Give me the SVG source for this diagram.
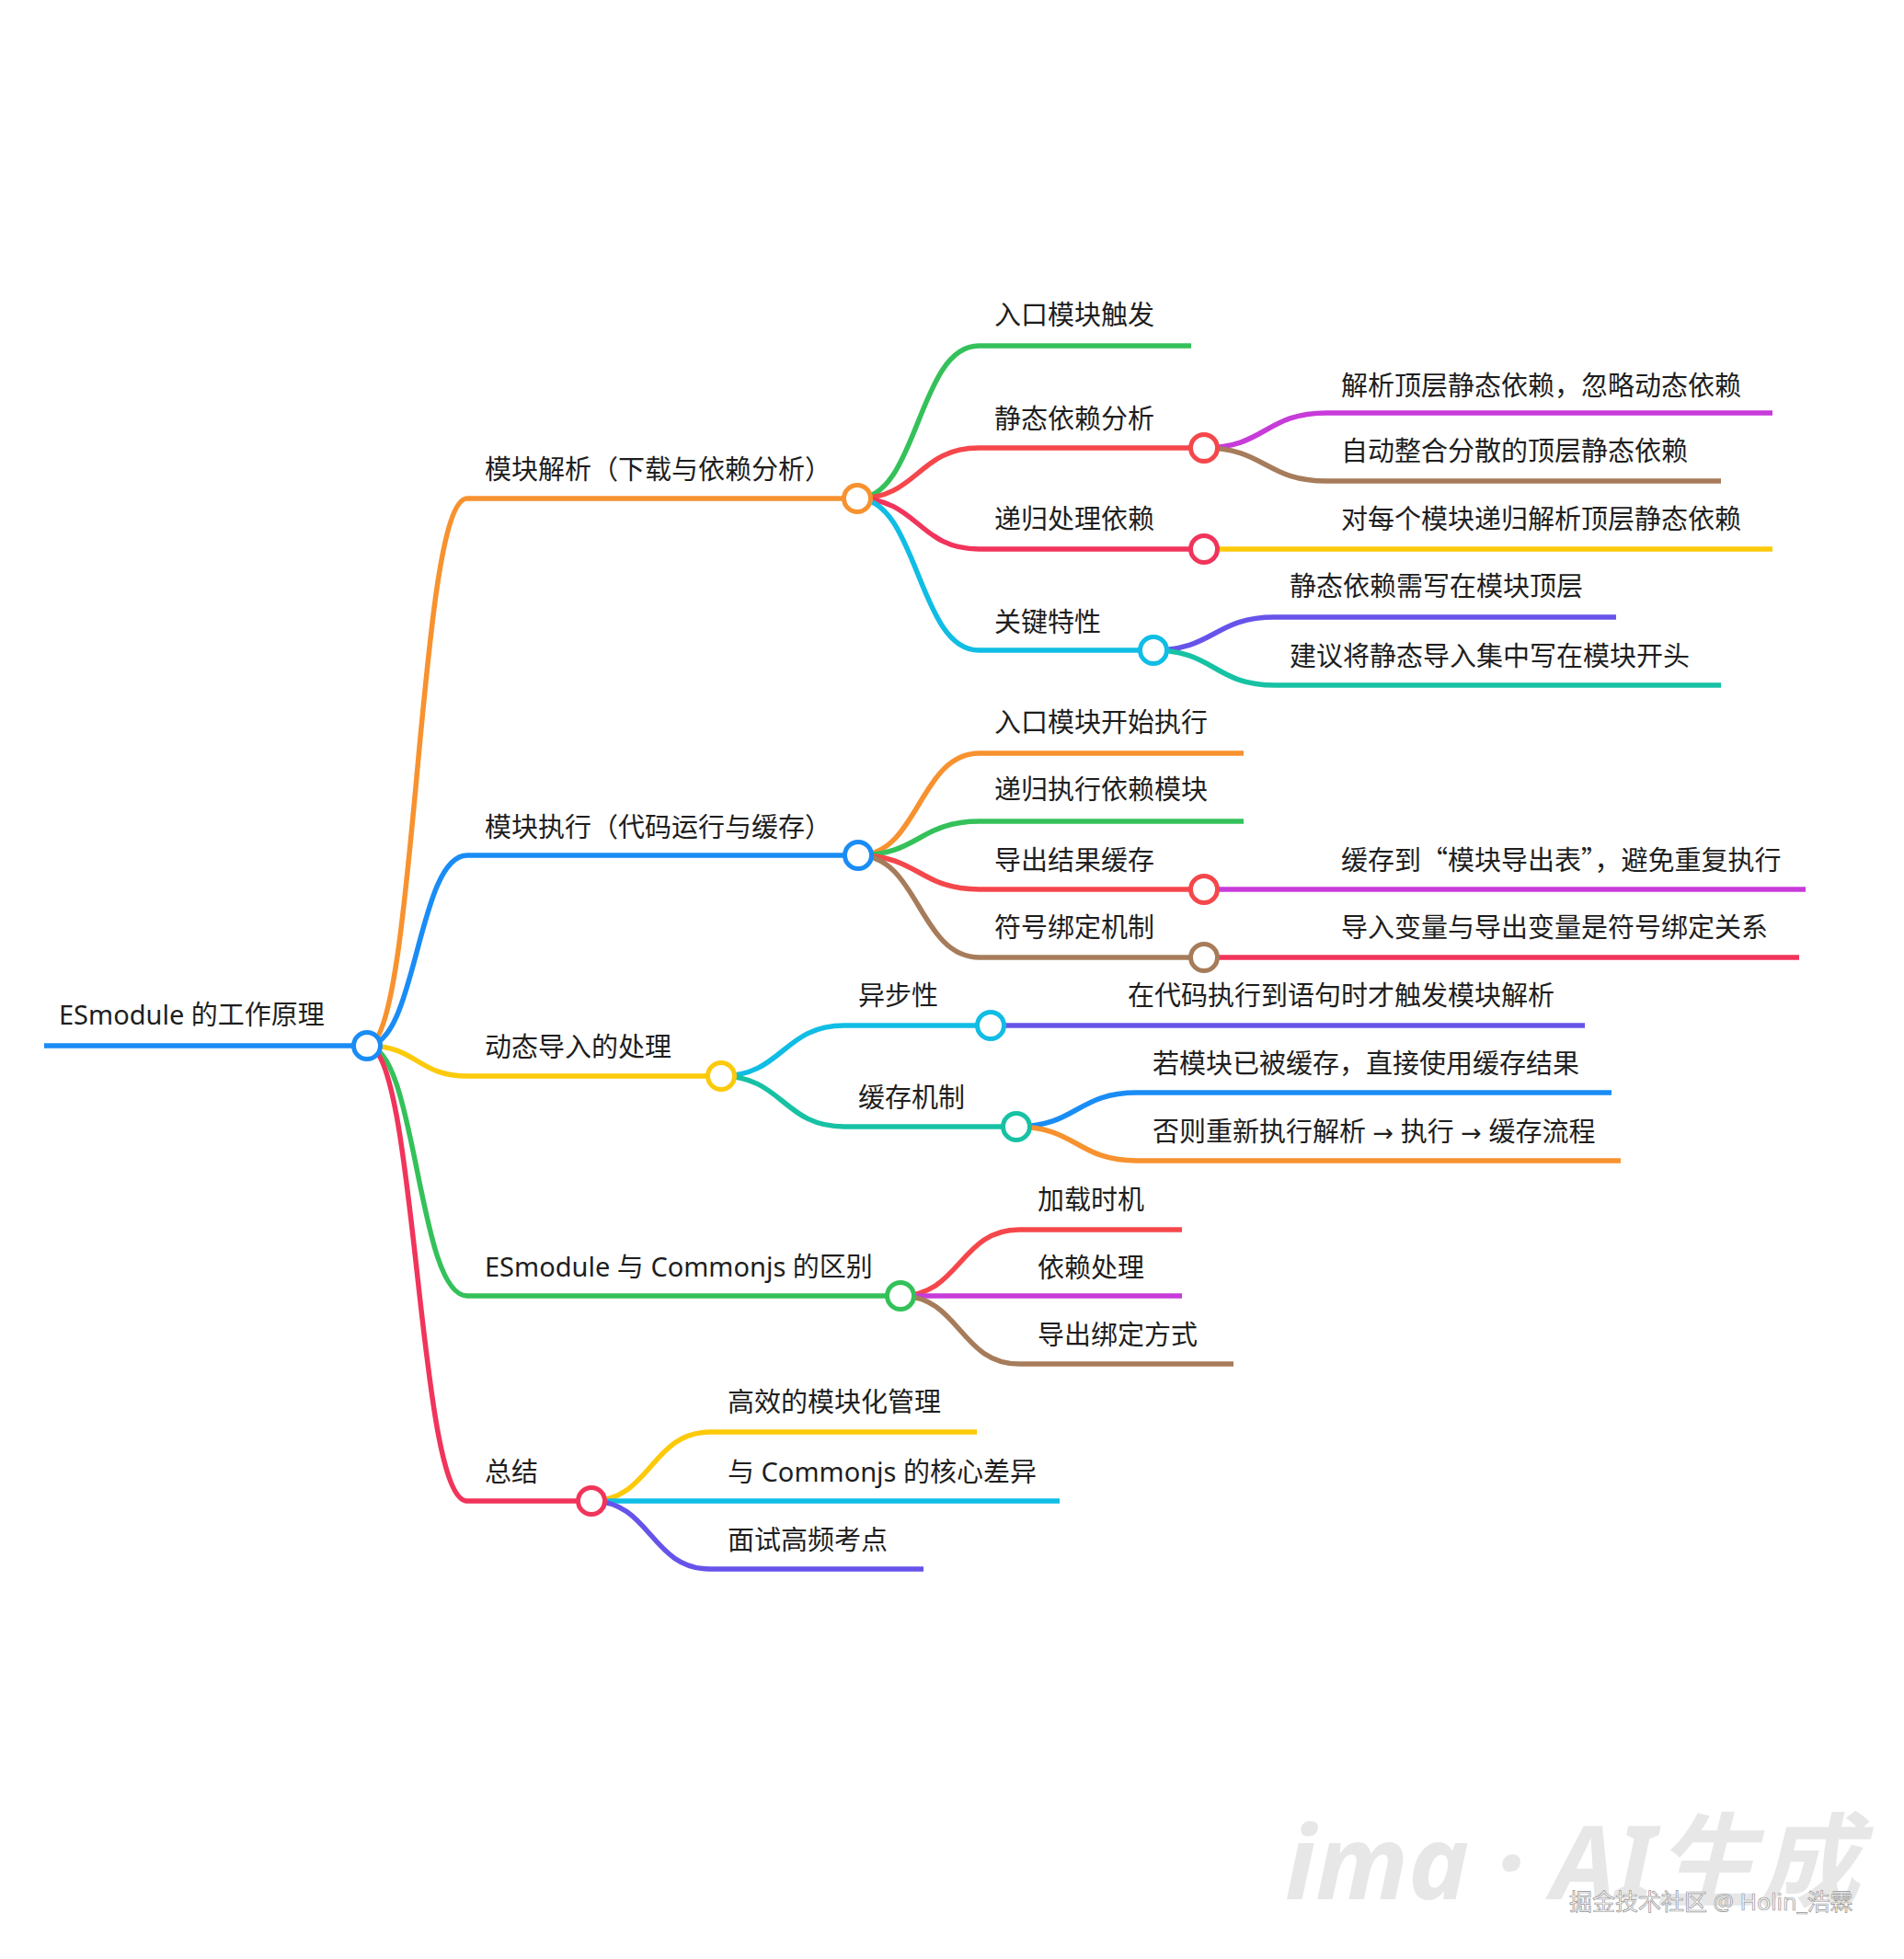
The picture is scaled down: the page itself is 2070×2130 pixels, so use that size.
<svg xmlns="http://www.w3.org/2000/svg" width="2070" height="2130" viewBox="0 0 2070 2130">
<style>
  .t { font-family: "Noto Sans", "Noto Sans CJK SC", sans-serif; font-size: 29px; fill: #1e1e1e; }
  .q { font-family: "Noto Sans CJK SC", sans-serif; font-feature-settings: "fwid" 1; }
  .ar { font-family: "DejaVu Sans", sans-serif; font-size: 27px; }
  .c { fill: none; stroke-width: 5.5; stroke-linecap: butt; }
  .n { fill: #ffffff; stroke-width: 5; }
  .blue { stroke: #1a8cf5; } .orange { stroke: #f7922f; } .green { stroke: #34c15a; }
  .red { stroke: #f5474b; } .crimson { stroke: #f1345b; } .purple { stroke: #c73bd9; }
  .brown { stroke: #a67c5b; } .yellow { stroke: #fcca0a; } .cyan { stroke: #10bde4; }
  .indigo { stroke: #6654ea; } .teal { stroke: #17c2a4; }
  .wm { font-family: "Noto Sans", "Noto Sans CJK SC", sans-serif; font-size: 112px; font-weight: bold; font-style: italic; fill: #e7e7e7; }
  .sig { font-family: "Noto Sans", "Noto Sans CJK SC", sans-serif; font-size: 25px; fill: #fbfbfb; stroke: #959595; stroke-width: 0.7; }
</style>
<rect width="2070" height="2130" fill="#ffffff"/>

<g id="connectors">
  <path class="c blue" d="M48 1137 H399"/>
  <path class="c orange" d="M399 1137 C453.5 1137 453.5 542 508 542 H932"/>
  <path class="c blue" d="M399 1137 C453.5 1137 453.5 930 508 930 H933"/>
  <path class="c yellow" d="M399 1137 C453.5 1137 453.5 1170 508 1170 H784"/>
  <path class="c green" d="M399 1137 C453.5 1137 453.5 1409 508 1409 H979"/>
  <path class="c crimson" d="M399 1137 C453.5 1137 453.5 1632 508 1632 H643"/>
  <path class="c green" d="M932 542 C998 542 998 376 1064 376 H1295"/>
  <path class="c red" d="M932 542 C998 542 998 487 1064 487 H1309"/>
  <path class="c crimson" d="M932 542 C998 542 998 597 1064 597 H1309"/>
  <path class="c cyan" d="M932 542 C998 542 998 707 1064 707 H1254"/>
  <path class="c purple" d="M1309 487 C1375.5 487 1375.5 449 1442 449 H1927"/>
  <path class="c brown" d="M1309 487 C1375.5 487 1375.5 523 1442 523 H1871"/>
  <path class="c yellow" d="M1309 597 H1927"/>
  <path class="c indigo" d="M1254 707 C1320 707 1320 671 1386 671 H1757"/>
  <path class="c teal" d="M1254 707 C1320 707 1320 745 1386 745 H1871"/>
  <path class="c orange" d="M933 930 C999 930 999 819 1065 819 H1352"/>
  <path class="c green" d="M933 930 C999 930 999 893 1065 893 H1352"/>
  <path class="c red" d="M933 930 C999 930 999 967 1065 967 H1309"/>
  <path class="c brown" d="M933 930 C999 930 999 1041 1065 1041 H1309"/>
  <path class="c purple" d="M1309 967 H1963"/>
  <path class="c crimson" d="M1309 1041 H1956"/>
  <path class="c cyan" d="M784 1170 C851 1170 851 1115 918 1115 H1077"/>
  <path class="c teal" d="M784 1170 C851 1170 851 1225 918 1225 H1105"/>
  <path class="c indigo" d="M1077 1115 H1723"/>
  <path class="c blue" d="M1105 1225 C1170.5 1225 1170.5 1188 1236 1188 H1752"/>
  <path class="c orange" d="M1105 1225 C1170.5 1225 1170.5 1262 1236 1262 H1762"/>
  <path class="c red" d="M979 1409 C1043.5 1409 1043.5 1337 1108 1337 H1285"/>
  <path class="c purple" d="M979 1409 H1285"/>
  <path class="c brown" d="M979 1409 C1043.5 1409 1043.5 1483 1108 1483 H1341"/>
  <path class="c yellow" d="M643 1632 C707.5 1632 707.5 1557 772 1557 H1062"/>
  <path class="c cyan" d="M643 1632 H1152"/>
  <path class="c indigo" d="M643 1632 C707.5 1632 707.5 1706 772 1706 H1004"/>
</g>

<g id="root">
  <circle class="n blue" cx="399" cy="1137" r="14.5"/>
  <text class="t" x="64" y="1114">ESmodule 的工作原理</text>
</g>

<g id="n-parse">
  <circle class="n orange" cx="932" cy="542" r="14.5"/>
  <text class="t" x="527" y="521">模块解析（下载与依赖分析）</text>
</g>
<g id="n-parse-entry"><text class="t" x="1081" y="353">入口模块触发</text></g>
<g id="n-parse-static">
  <circle class="n red" cx="1309" cy="487" r="14.5"/>
  <text class="t" x="1081" y="466">静态依赖分析</text>
</g>
<g id="n-parse-static-1"><text class="t" x="1458" y="430">解析顶层静态依赖，忽略动态依赖</text></g>
<g id="n-parse-static-2"><text class="t" x="1458" y="501">自动整合分散的顶层静态依赖</text></g>
<g id="n-parse-rec">
  <circle class="n crimson" cx="1309" cy="597" r="14.5"/>
  <text class="t" x="1081" y="575">递归处理依赖</text>
</g>
<g id="n-parse-rec-1"><text class="t" x="1458" y="575">对每个模块递归解析顶层静态依赖</text></g>
<g id="n-parse-key">
  <circle class="n cyan" cx="1254" cy="707" r="14.5"/>
  <text class="t" x="1081" y="687">关键特性</text>
</g>
<g id="n-parse-key-1"><text class="t" x="1402" y="648">静态依赖需写在模块顶层</text></g>
<g id="n-parse-key-2"><text class="t" x="1402" y="724">建议将静态导入集中写在模块开头</text></g>

<g id="n-exec">
  <circle class="n blue" cx="933" cy="930" r="14.5"/>
  <text class="t" x="527" y="910">模块执行（代码运行与缓存）</text>
</g>
<g id="n-exec-1"><text class="t" x="1081" y="796">入口模块开始执行</text></g>
<g id="n-exec-2"><text class="t" x="1081" y="869">递归执行依赖模块</text></g>
<g id="n-exec-3">
  <circle class="n red" cx="1309" cy="967" r="14.5"/>
  <text class="t" x="1081" y="946">导出结果缓存</text>
</g>
<g id="n-exec-3-1"><text class="t" x="1458" y="946">缓存到<tspan class="q">“</tspan>模块导出表<tspan class="q">”</tspan>，避免重复执行</text></g>
<g id="n-exec-4">
  <circle class="n brown" cx="1309" cy="1041" r="14.5"/>
  <text class="t" x="1081" y="1019">符号绑定机制</text>
</g>
<g id="n-exec-4-1"><text class="t" x="1458" y="1019">导入变量与导出变量是符号绑定关系</text></g>

<g id="n-dyn">
  <circle class="n yellow" cx="784" cy="1170" r="14.5"/>
  <text class="t" x="527" y="1149">动态导入的处理</text>
</g>
<g id="n-dyn-async">
  <circle class="n cyan" cx="1077" cy="1115" r="14.5"/>
  <text class="t" x="933" y="1093">异步性</text>
</g>
<g id="n-dyn-async-1"><text class="t" x="1226" y="1093">在代码执行到语句时才触发模块解析</text></g>
<g id="n-dyn-cache">
  <circle class="n teal" cx="1105" cy="1225" r="14.5"/>
  <text class="t" x="933" y="1204">缓存机制</text>
</g>
<g id="n-dyn-cache-1"><text class="t" x="1253" y="1167">若模块已被缓存，直接使用缓存结果</text></g>
<g id="n-dyn-cache-2"><text class="t" x="1253" y="1241">否则重新执行解析 <tspan class="ar">→</tspan> 执行 <tspan class="ar">→</tspan> 缓存流程</text></g>

<g id="n-diff">
  <circle class="n green" cx="979" cy="1409" r="14.5"/>
  <text class="t" x="527" y="1388">ESmodule 与 Commonjs 的区别</text>
</g>
<g id="n-diff-1"><text class="t" x="1128" y="1315">加载时机</text></g>
<g id="n-diff-2"><text class="t" x="1128" y="1389">依赖处理</text></g>
<g id="n-diff-3"><text class="t" x="1128" y="1462">导出绑定方式</text></g>

<g id="n-sum">
  <circle class="n crimson" cx="643" cy="1632" r="14.5"/>
  <text class="t" x="527" y="1611">总结</text>
</g>
<g id="n-sum-1"><text class="t" x="791" y="1535">高效的模块化管理</text></g>
<g id="n-sum-2"><text class="t" x="791" y="1611">与 Commonjs 的核心差异</text></g>
<g id="n-sum-3"><text class="t" x="791" y="1685">面试高频考点</text></g>

<g id="watermark">
  <text class="wm" x="1397" y="2065" textLength="625" lengthAdjust="spacingAndGlyphs">ima · AI生成</text>
  <text class="sig" x="1706" y="2077">掘金技术社区 @ Holin_浩霖</text>
</g>
</svg>
